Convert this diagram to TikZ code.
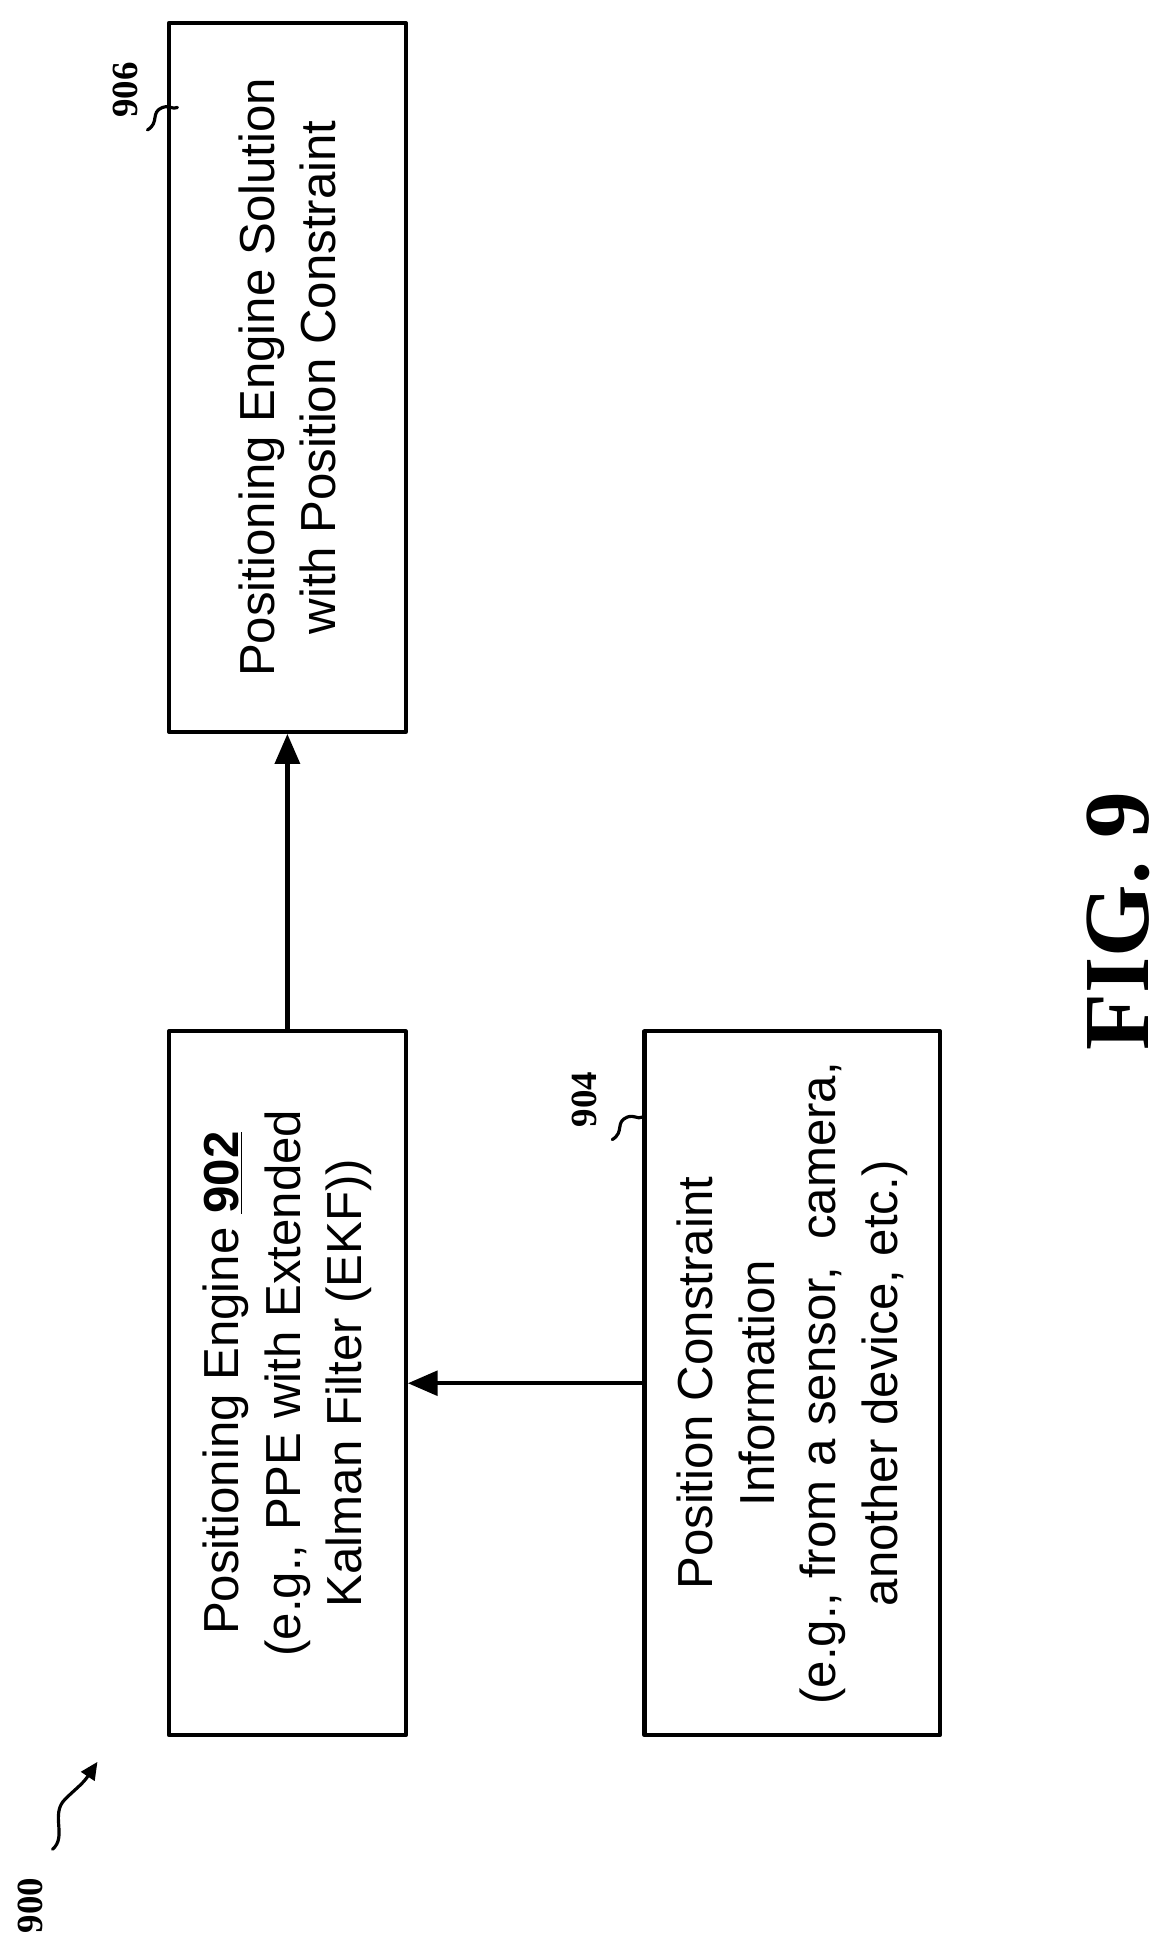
\documentclass[tikz,border=0pt]{standalone}
\usepackage{fontspec}
\setmainfont{Liberation Sans}
\newfontfamily\numfont{Liberation Serif}
\usetikzlibrary{arrows.meta}
\begin{document}
\begin{tikzpicture}[x=0.025cm,y=-0.025cm,line cap=round,line join=round,>={Triangle[length=17pt,width=14pt]},
  blk/.style={draw,line width=2.4pt,rotate=90,align=center,inner sep=0pt,font=\fontsize{28}{35}\selectfont},
  refnum/.style={rotate=90,font=\numfont\bfseries\fontsize{21}{21}\selectfont},
  squig/.style={line width=1.8pt}]
\useasboundingbox (0,0) rectangle (940,1563);
% blocks
\node[blk,minimum width=565*0.709pt,minimum height=190*0.709pt] (pe) at (230,1107)
  {Positioning Engine \underline{\textbf{902}}\\(e.g., PPE with Extended\\Kalman Filter (EKF))};
\node[blk,minimum width=565*0.709pt,minimum height=237*0.709pt] (pc) at (634,1107)
  {Position Constraint\\Information\\(e.g., from a sensor,\ \ camera,\\another device, etc.)};
\node[blk,minimum width=569*0.709pt,minimum height=190*0.709pt] (sol) at (230,302)
  {Positioning Engine Solution\\with Position Constraint};
% connectors
\draw[->,line width=2.4pt] (pe.east) -- (sol.west);
\draw[->,line width=2.4pt] (pc.north) -- (pe.south);
% reference numerals
\node[refnum] (n906) at (100,72) {906};
\draw[squig] (118,104) .. controls (128,98) and (120,90) .. (130,86) .. controls (136,84) and (138,88) .. (142,86);
\node[refnum] (n904) at (468,880) {904};
\draw[squig] (490,912) .. controls (500,906) and (492,898) .. (502,894) .. controls (508,892) and (510,896) .. (514,894);
\node[refnum] (n900) at (24,1525) {900};
\coordinate (tip) at (78,1410);
\draw[squig,->,>={Triangle[length=10pt,width=9pt]}] (42,1480) .. controls (54,1470) and (40,1452) .. (52,1440) .. controls (60,1432) and (66,1428) .. (tip);
\node[rotate=90,font=\numfont\bfseries\fontsize{53}{53}\selectfont] (fig) at (895,737) {FIG. 9};
\end{tikzpicture}
\end{document}
